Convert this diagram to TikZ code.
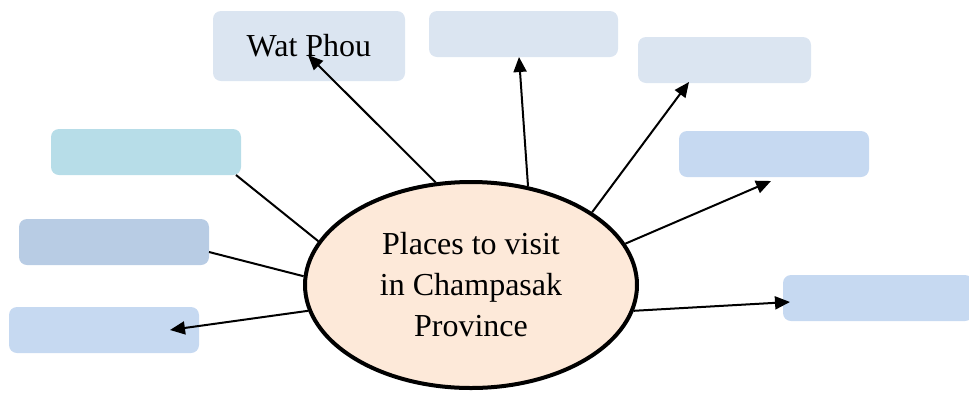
\documentclass[tikz,border=0pt]{standalone}
\usepackage{fontspec}
\setmainfont{Liberation Serif}
\usetikzlibrary{shapes.geometric, arrows.meta}
\definecolor{paleblue}{HTML}{DBE5F1}
\definecolor{midblue}{HTML}{C6D9F1}
\definecolor{greyblue}{HTML}{B8CCE4}
\definecolor{aqua}{HTML}{B7DDE8}
\definecolor{peach}{HTML}{FDE9D9}

\begin{document}
\begin{tikzpicture}[x=1pt, y=-1pt,
  place/.style={rounded corners=8pt, inner sep=0pt, minimum height=46pt, minimum width=190pt},
  spoke/.style={line width=2pt},
  arrow/.style={spoke, -{Triangle[length=15pt, width=13pt]}}]
\useasboundingbox (0,0) rectangle (969,392);
\node[place, fill=paleblue, minimum height=70pt, minimum width=192pt, font=\fontsize{32}{41}\selectfont] (wat) at (309,46) {Wat Phou};
\node[place, fill=paleblue, minimum width=189pt] (top) at (523.5,34) {};
\node[place, fill=paleblue, minimum width=173pt] (ne) at (724.5,60) {};
\node[place, fill=midblue] (east) at (774,154) {};
\node[place, fill=midblue] (se) at (878,298) {};
\node[place, fill=aqua] (nw) at (146,152) {};
\node[place, fill=greyblue] (west) at (114,242) {};
\node[place, fill=midblue] (sw) at (104,330) {};
\node[ellipse, draw, line width=4pt, fill=peach, minimum width=332pt, minimum height=206pt, inner sep=0pt, align=center, font=\fontsize{32}{41}\selectfont] (hub) at (471,285) {Places to visit\\in Champasak\\Province};
\coordinate (a) at (308,55);
\coordinate (b) at (519,57);
\coordinate (c) at (689,82);
\coordinate (d) at (771,181);
\coordinate (e) at (790,302);
\coordinate (f) at (236,175);
\coordinate (g) at (209,252);
\coordinate (h) at (170,330);
\draw[arrow] (hub.109) -- (a);
\draw[arrow] (hub.60) -- (b);
\draw[arrow] (hub.31) -- (c);
\draw[arrow] (hub.15) -- (d);
\draw[arrow] (hub.-9) -- (e);
\draw[spoke] (f) -- (hub.164.5);
\draw[spoke] (g) -- (hub.177);
\draw[arrow] (hub.189) -- (h);
\end{tikzpicture}
\end{document}
